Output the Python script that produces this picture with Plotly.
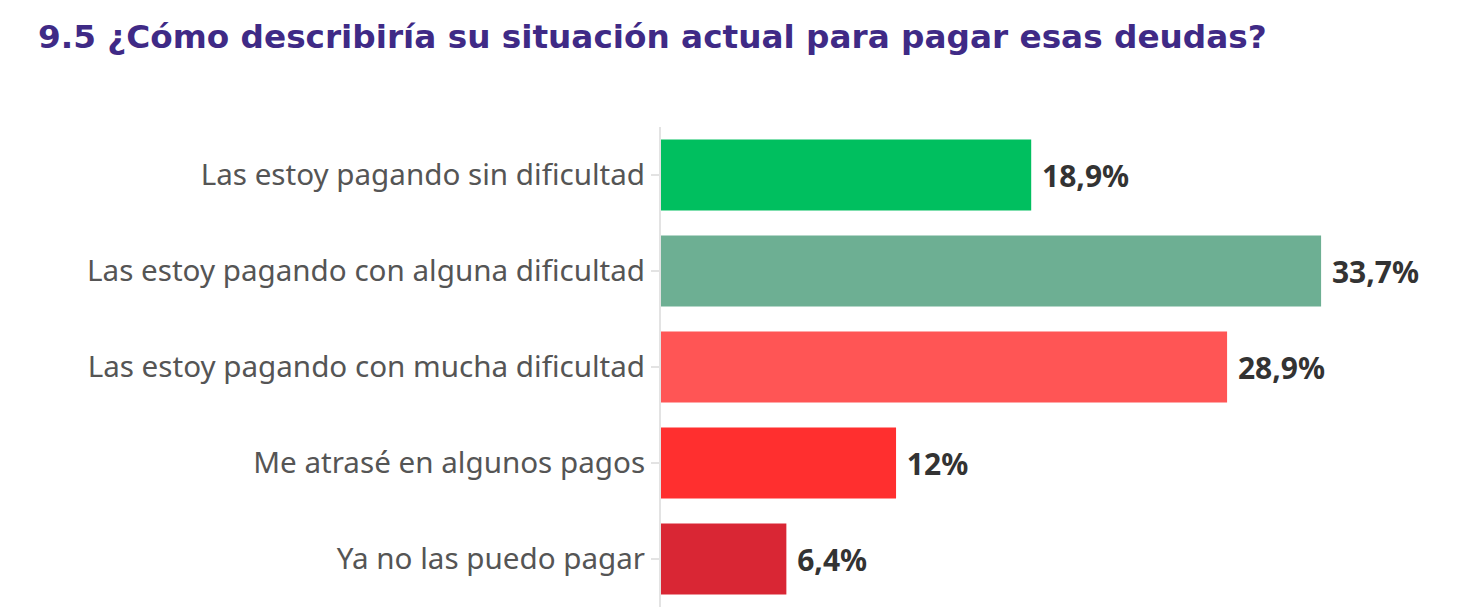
import plotly.graph_objects as go

# survey answers, top to bottom
categories = [
    "Las estoy pagando sin dificultad",
    "Las estoy pagando con alguna dificultad",
    "Las estoy pagando con mucha dificultad",
    "Me atrasé en algunos pagos",
    "Ya no las puedo pagar",
]
values = [18.9, 33.7, 28.9, 12, 6.4]
value_labels = ["18,9%", "33,7%", "28,9%", "12%", "6,4%"]
bar_colors = ["#00bf5f", "#6daf93", "#ff5555", "#ff2f2f", "#d92634"]

fig = go.Figure()

fig.add_trace(go.Bar(
    y=categories,
    x=values,
    orientation="h",
    marker=dict(color=bar_colors, line=dict(width=0)),
    text=["\u00a0" + t for t in value_labels],
    textposition="outside",
    textfont=dict(family="Noto Sans", size=30, color="#333333", weight="bold"),
    cliponaxis=False,
    width=0.74,
    hoverinfo="skip",
))

fig.update_layout(
    width=1480,
    height=611,
    paper_bgcolor="white",
    plot_bgcolor="white",
    showlegend=False,
    margin=dict(l=653, r=20, t=119, b=12),
    title=dict(
        text="9.5 ¿Cómo describiría su situación actual para pagar esas deudas?",
        font=dict(family="DejaVu Sans", size=32.7, color="#3f2a86", weight="bold"),
        x=30 / 1480, xanchor="left",
        y=1 - 29 / 611, yanchor="middle",
    ),
)

fig.update_xaxes(range=[0, 41.2], visible=False, showgrid=False, zeroline=False)
fig.update_yaxes(
    autorange="reversed",
    showgrid=False,
    zeroline=False,
    showline=True,
    linecolor="#e3e3e3",
    linewidth=2,
    ticks="outside",
    ticklen=8,
    tickcolor="#e3e3e3",
    tickwidth=2,
    tickfont=dict(family="Noto Sans", size=29.6, color="#555555"),
)

fig.write_html("out.html")
